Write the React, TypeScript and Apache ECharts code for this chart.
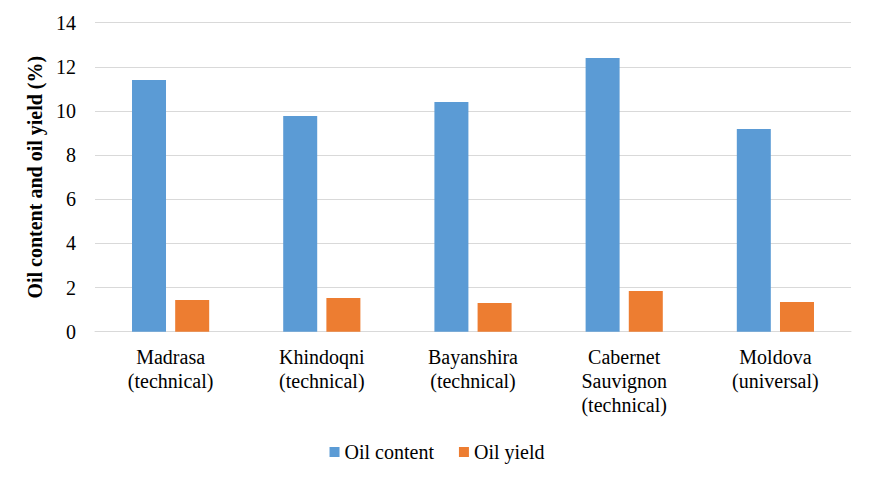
import React, { useEffect, useRef } from "react";
import * as echarts from "echarts";

const categories = [
  "Madrasa\n(technical)",
  "Khindoqni\n(technical)",
  "Bayanshira\n(technical)",
  "Cabernet\nSauvignon\n(technical)",
  "Moldova\n(universal)",
];
const oilContent = [11.4, 9.77, 10.41, 12.4, 9.18];
const oilYield = [1.44, 1.53, 1.3, 1.84, 1.35];
const seriesNames = ["Oil content", "Oil yield"];

const FONT = "Liberation Serif";

export default function App() {
  const ref = useRef<HTMLDivElement>(null);
  useEffect(() => {
    if (!ref.current) return;
    const chart = echarts.init(ref.current, null, { renderer: "svg" });
    chart.setOption({
      animation: false,
      backgroundColor: "#ffffff",
      textStyle: { fontFamily: FONT, fontWeight: "normal" },
      grid: { left: 95, right: 23, top: 22.7, bottom: 145.3, containLabel: false },
      legend: {
        data: seriesNames,
        left: "center",
        top: 437,
        itemWidth: 10,
        itemHeight: 10,
        itemGap: 25,
        icon: "rect",
        textStyle: { fontFamily: FONT, fontWeight: "normal", fontSize: 20, color: "#000" },
      },
      xAxis: {
        type: "category",
        data: categories,
        axisLine: { lineStyle: { color: "#d9d9d9", width: 1 } },
        axisTick: { show: false },
        axisLabel: {
          fontFamily: FONT,
          fontWeight: "normal",
          fontSize: 20,
          color: "#000",
          lineHeight: 24,
          margin: 13,
          interval: 0,
        },
      },
      yAxis: {
        type: "value",
        min: 0,
        max: 14,
        interval: 2,
        name: "Oil content and oil yield (%)",
        nameLocation: "middle",
        nameGap: 43,
        nameTextStyle: { fontFamily: FONT, fontSize: 20, fontWeight: "bold", color: "#000" },
        axisLine: { show: false },
        axisTick: { show: false },
        splitLine: { lineStyle: { color: "#d9d9d9", width: 1 } },
        axisLabel: { fontFamily: FONT, fontWeight: "normal", fontSize: 20, color: "#000", margin: 19 },
      },
      series: [
        {
          name: seriesNames[0],
          type: "bar",
          data: oilContent,
          barWidth: 34,
          barGap: "27%",
          itemStyle: { color: "#5b9bd5" },
        },
        {
          name: seriesNames[1],
          type: "bar",
          data: oilYield,
          barWidth: 34,
          barGap: "27%",
          itemStyle: { color: "#ed7d31" },
        },
      ],
    });
    return () => chart.dispose();
  }, []);
  return (
    <div
      ref={ref}
      style={{ position: "absolute", left: 0, top: 0, width: 874, height: 477 }}
    />
  );
}
